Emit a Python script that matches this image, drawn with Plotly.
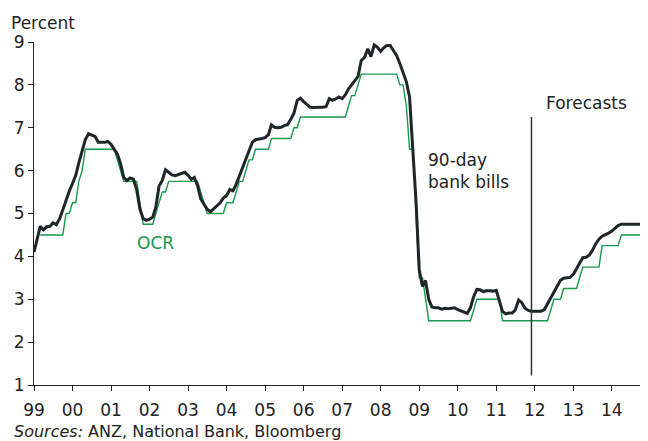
import pandas as pd
import plotly.graph_objects as go

# 90-day bank bills, monthly, Jan 1999 - Dec 2014 (from Dec 2011 = forecasts)
bills_1999 = [4.10, 4.42, 4.70, 4.62, 4.69, 4.70, 4.78, 4.74, 4.88, 5.08, 5.33, 5.52]
bills_2000 = [5.70, 5.89, 6.18, 6.46, 6.72, 6.86, 6.83, 6.80, 6.66, 6.66, 6.66, 6.68]
bills_2001 = [6.61, 6.49, 6.39, 6.16, 5.84, 5.77, 5.83, 5.80, 5.55, 5.11, 4.88, 4.84]
bills_2002 = [4.87, 4.92, 5.15, 5.64, 5.77, 6.02, 5.95, 5.90, 5.88, 5.91, 5.94, 5.96]
bills_2003 = [5.89, 5.80, 5.84, 5.65, 5.34, 5.23, 5.10, 5.04, 5.11, 5.17, 5.25, 5.36]
bills_2004 = [5.42, 5.56, 5.53, 5.68, 5.87, 6.07, 6.24, 6.43, 6.66, 6.72, 6.73, 6.75]
bills_2005 = [6.77, 6.84, 7.07, 7.01, 7.00, 7.01, 7.05, 7.07, 7.20, 7.34, 7.64, 7.69]
bills_2006 = [7.61, 7.54, 7.48, 7.47, 7.48, 7.48, 7.48, 7.49, 7.68, 7.64, 7.67, 7.72]
bills_2007 = [7.68, 7.77, 7.90, 8.01, 8.09, 8.20, 8.57, 8.64, 8.84, 8.66, 8.93, 8.88]
bills_2008 = [8.78, 8.87, 8.92, 8.92, 8.80, 8.68, 8.50, 8.28, 8.07, 7.72, 6.60, 5.30]
bills_2009 = [3.68, 3.30, 3.44, 3.00, 2.82, 2.80, 2.80, 2.77, 2.79, 2.78, 2.79, 2.80]
bills_2010 = [2.76, 2.73, 2.70, 2.67, 2.80, 3.06, 3.23, 3.22, 3.18, 3.20, 3.20, 3.19]
bills_2011 = [3.21, 2.96, 2.72, 2.66, 2.68, 2.68, 2.75, 2.98, 2.92, 2.79, 2.74, 2.72]
bills_2012 = [2.72, 2.72, 2.72, 2.76, 2.89, 3.04, 3.19, 3.32, 3.44, 3.49, 3.50, 3.51]
bills_2013 = [3.58, 3.73, 3.84, 3.97, 3.98, 4.03, 4.14, 4.29, 4.40, 4.47, 4.50, 4.54]
bills_2014 = [4.59, 4.67, 4.72, 4.75, 4.75, 4.75, 4.75, 4.75, 4.75, 4.75, 4.75, 4.75]

# OCR, monthly, Mar 1999 - Dec 2014
ocr_1999 = [4.5, 4.5, 4.5, 4.5, 4.5, 4.5, 4.5, 4.5, 5.0, 5.0]
ocr_2000 = [5.25, 5.25, 5.75, 6.0, 6.5, 6.5, 6.5, 6.5, 6.5, 6.5, 6.5, 6.5]
ocr_2001 = [6.5, 6.5, 6.25, 6.0, 5.75, 5.75, 5.75, 5.75, 5.75, 5.25, 4.75, 4.75]
ocr_2002 = [4.75, 4.75, 5.0, 5.25, 5.5, 5.5, 5.75, 5.75, 5.75, 5.75, 5.75, 5.75]
ocr_2003 = [5.75, 5.75, 5.75, 5.75, 5.5, 5.25, 5.0, 5.0, 5.0, 5.0, 5.0, 5.0]
ocr_2004 = [5.25, 5.25, 5.25, 5.5, 5.75, 5.75, 6.0, 6.25, 6.25, 6.5, 6.5, 6.5]
ocr_2005 = [6.5, 6.5, 6.75, 6.75, 6.75, 6.75, 6.75, 6.75, 6.75, 7.0, 7.0, 7.25]
ocr_2006 = [7.25, 7.25, 7.25, 7.25, 7.25, 7.25, 7.25, 7.25, 7.25, 7.25, 7.25, 7.25]
ocr_2007 = [7.25, 7.25, 7.5, 7.75, 7.75, 8.0, 8.25, 8.25, 8.25, 8.25, 8.25, 8.25]
ocr_2008 = [8.25, 8.25, 8.25, 8.25, 8.25, 8.25, 8.0, 8.0, 7.5, 6.5, 6.5, 5.0]
ocr_2009 = [3.5, 3.5, 3.0, 2.5, 2.5, 2.5, 2.5, 2.5, 2.5, 2.5, 2.5, 2.5]
ocr_2010 = [2.5, 2.5, 2.5, 2.5, 2.5, 2.75, 3.0, 3.0, 3.0, 3.0, 3.0, 3.0]
ocr_2011 = [3.0, 3.0, 2.5, 2.5, 2.5, 2.5, 2.5, 2.5, 2.5, 2.5, 2.5, 2.5]
ocr_2012 = [2.5, 2.5, 2.5, 2.5, 2.5, 2.75, 3.0, 3.0, 3.0, 3.25, 3.25, 3.25]
ocr_2013 = [3.25, 3.25, 3.5, 3.75, 3.75, 3.75, 3.75, 3.75, 3.75, 4.25, 4.25, 4.25]
ocr_2014 = [4.25, 4.25, 4.25, 4.5, 4.5, 4.5, 4.5, 4.5, 4.5, 4.5, 4.5, 4.5]

bills = (bills_1999 + bills_2000 + bills_2001 + bills_2002 + bills_2003 + bills_2004
         + bills_2005 + bills_2006 + bills_2007 + bills_2008 + bills_2009 + bills_2010
         + bills_2011 + bills_2012 + bills_2013 + bills_2014)
ocr = (ocr_1999 + ocr_2000 + ocr_2001 + ocr_2002 + ocr_2003 + ocr_2004 + ocr_2005
       + ocr_2006 + ocr_2007 + ocr_2008 + ocr_2009 + ocr_2010 + ocr_2011 + ocr_2012
       + ocr_2013 + ocr_2014)

bills_dates = pd.date_range("1999-01-01", periods=len(bills), freq="MS")
ocr_dates = pd.date_range("1999-03-01", periods=len(ocr), freq="MS")

forecast_start = "2011-12-01"

GREEN = "#17994f"
DARK = "#1f2628"
FONT = "DejaVu Sans"

fig = go.Figure()
fig.add_trace(go.Scatter(x=ocr_dates, y=ocr, mode="lines",
                         line=dict(color=GREEN, width=1.4), name="OCR"))
fig.add_trace(go.Scatter(x=bills_dates, y=bills, mode="lines",
                         line=dict(color=DARK, width=3), name="90-day bank bills"))

# forecast divider
fig.add_shape(type="line", xref="x", yref="y", x0=forecast_start, x1=forecast_start,
              y0=1.22, y1=7.25, line=dict(color="#333333", width=1.5))

fig.add_annotation(x="2012-04-01", y=7.57, xref="x", yref="y", text="Forecasts",
                   showarrow=False, xanchor="left", yanchor="middle",
                   font=dict(size=17, color="#222222"))
fig.add_annotation(x="2009-03-10", y=5.99, xref="x", yref="y",
                   text="90-day<br>bank bills", showarrow=False, align="left",
                   xanchor="left", yanchor="middle", font=dict(size=17, color="#222222"))
fig.add_annotation(x="2001-08-20", y=4.31, xref="x", yref="y", text="OCR",
                   showarrow=False, xanchor="left", yanchor="middle",
                   font=dict(size=17, color=GREEN))
fig.add_annotation(x=-0.04, y=1.054, xref="paper", yref="paper", text="Percent",
                   showarrow=False, xanchor="left", yanchor="middle",
                   font=dict(size=17, color="#222222"))
fig.add_annotation(x=-0.036, y=-0.136, xref="paper", yref="paper",
                   text="<i>Sources:</i> ANZ, National Bank, Bloomberg",
                   showarrow=False, xanchor="left", yanchor="middle",
                   font=dict(size=16, color="#222222"))

# page has an 8px body margin, so the figure is sized to end at 648x441
fig.update_layout(
    width=640, height=433,
    margin=dict(l=26, r=0, t=33.5, b=56),
    paper_bgcolor="white", plot_bgcolor="white",
    showlegend=False,
    font=dict(family=FONT, size=17, color="#222222"),
)
fig.update_xaxes(
    type="date", range=["1999-01-01", "2014-12-10"],
    tick0="1999-01-01", dtick="M12", tickformat="%y",
    showgrid=False, zeroline=False,
    showline=True, linecolor="#222222", linewidth=1,
    ticks="outside", ticklen=5, tickcolor="#222222",
    tickfont=dict(size=17), ticklabelstandoff=5,
)
fig.update_yaxes(
    range=[1, 9], dtick=1, showgrid=False, zeroline=False,
    showline=True, linecolor="#222222", linewidth=1,
    ticks="outside", ticklen=5, tickcolor="#222222",
    tickfont=dict(size=17),
)

fig.write_html("out.html")
